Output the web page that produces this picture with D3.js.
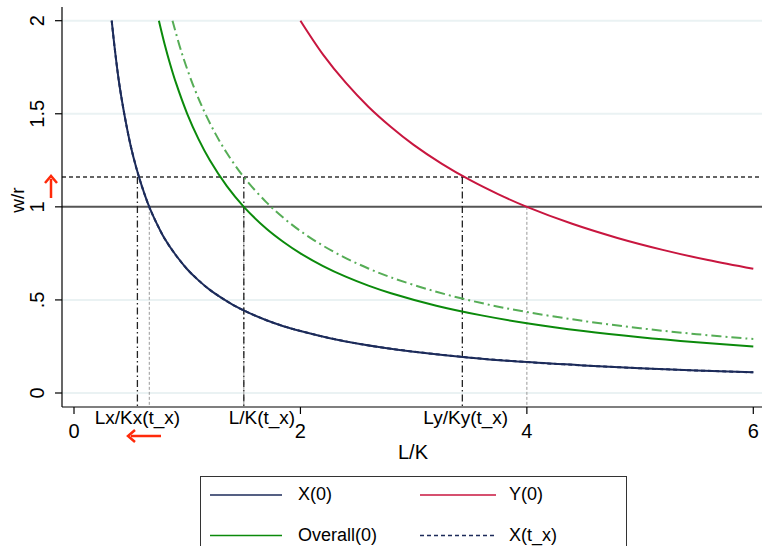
<!DOCTYPE html>
<html><head><meta charset="utf-8">
<script src="https://cdn.jsdelivr.net/npm/d3@7"></script>
<style>body{margin:0;background:#fff}svg{display:block;font-family:"Liberation Sans",Arial,Helvetica,sans-serif}</style>
</head><body><svg id="c" width="764" height="546"></svg>
<script>
// ---- data ----
const x0X = [0.333,0.36,0.4,0.45,0.5,0.55,0.6,0.65,0.7,0.75,0.8,0.9,1.0,1.1,1.2,1.3,1.4,1.55,1.7,1.85,2.0,2.25,2.5,2.75,3.0,3.5,4.0,4.5,5.0,5.5,6.0];
const yX0 = [2.0,1.85,1.66,1.48,1.33,1.21,1.11,1.023,0.95,0.887,0.83,0.74,0.665,0.605,0.554,0.512,0.475,0.429,0.391,0.359,0.333,0.296,0.266,0.242,0.222,0.19,0.166,0.148,0.133,0.121,0.111];
const xOverall = [0.75,0.8,0.85,0.9,1.0,1.1,1.2,1.35,1.5,1.7,1.85,2.0,2.2,2.4,2.6,2.8,3.2,3.6,4.0,4.5,5.0,5.5,6.0];
const yOverall0 = [2.0,1.875,1.765,1.667,1.5,1.364,1.25,1.111,1.0,0.882,0.811,0.75,0.682,0.625,0.577,0.536,0.469,0.417,0.375,0.333,0.3,0.273,0.25];
const xOverallT = [0.87,0.95,1.05,1.15,1.25,1.35,1.5,1.7,1.85,2.0,2.2,2.4,2.6,2.8,3.2,3.6,4.0,4.5,5.0,5.5,6.0];
const yOverallT = [2.0,1.83,1.657,1.513,1.392,1.289,1.16,1.024,0.941,0.87,0.791,0.725,0.669,0.621,0.544,0.483,0.435,0.387,0.348,0.316,0.29];
const xY = [2.0,2.2,2.4,2.6,2.8,3.0,3.25,3.5,3.75,4.0,4.4,4.8,5.2,5.6,6.0];
const yY0 = [2.0,1.818,1.667,1.538,1.429,1.333,1.231,1.143,1.067,1.0,0.909,0.833,0.769,0.714,0.667];
const yXt = yX0; // X(t_x) drawn over X(0)

const refLevel0 = 1;       // w/r at t=0
const refLevelT = 1.16;    // w/r at t_x
const tKnots = [0.56, 1.5, 3.43];         // dash-dot drops at t_x
const tLabels = ["Lx/Kx(t_x)", "L/K(t_x)", "Ly/Ky(t_x)"];
const tLabelShift = [0, 0.16, 0.03];
const zeroKnots = [0.665, 1.5, 4.0];      // thin drops at t=0
const xTicks = [0, 2, 4, 6];
const yTicks = [0, 0.5, 1, 1.5, 2];
const yTickLabels = ["0", ".5", "1", "1.5", "2"];
const legendNames = ["X(0)", "Y(0)", "Overall(0)", "X(t_x)"];
const legendColors = ["#1c2b5a", "#c8163f", "#0b8a0b", "#1c2b5a"];
const legendDash = [null, null, null, "4,3"];

// ---- drawing ----
const svg = d3.select("#c");
const x = d3.scaleLinear().domain([0, 6]).range([74, 753.3]);
const y = d3.scaleLinear().domain([0, 2]).range([393, 20.7]);
const L = 62, R = 762, T = 7, B = 407;

// gridlines
svg.append("g").selectAll("line").data(yTicks.filter(d => d !== 1)).join("line")
  .attr("x1", L).attr("x2", R).attr("y1", d => y(d)).attr("y2", d => y(d))
  .attr("stroke", "#eaf2f3").attr("stroke-width", 2);

// horizontal reference lines
svg.append("line").attr("x1", L).attr("x2", R).attr("y1", y(refLevel0)).attr("y2", y(refLevel0))
  .attr("stroke", "#555").attr("stroke-width", 2);
svg.append("line").attr("x1", L).attr("x2", R).attr("y1", y(refLevelT)).attr("y2", y(refLevelT))
  .attr("stroke", "#333").attr("stroke-width", 1.6).attr("stroke-dasharray", "4,3");

// vertical drops
svg.append("g").selectAll("line").data(zeroKnots).join("line")
  .attr("x1", d => x(d)).attr("x2", d => x(d)).attr("y1", y(refLevel0)).attr("y2", B)
  .attr("stroke", "#999").attr("stroke-width", 1).attr("stroke-dasharray", "3,2");
svg.append("g").selectAll("line").data(tKnots).join("line")
  .attr("x1", d => x(d)).attr("x2", d => x(d)).attr("y1", y(refLevelT)).attr("y2", B)
  .attr("stroke", "#222").attr("stroke-width", 1.3).attr("stroke-dasharray", "7,3,1.5,3");

// curves
const line = d3.line().x(d => x(d[0])).y(d => y(d[1])).curve(d3.curveCatmullRom.alpha(0.5));
const zip = (a, b) => a.map((v, i) => [v, b[i]]);
const series = [
  {d: zip(xOverall, yOverall0), c: "#0b8a0b", dash: null},
  {d: zip(xOverallT, yOverallT), c: "#56ad56", dash: "10,4,2,4"},
  {d: zip(xY, yY0), c: "#c8163f", dash: null},
  {d: zip(x0X, yX0), c: "#1c2b5a", dash: null},
  {d: zip(x0X, yXt), c: "#1c2b5a", dash: "4,3"}
];
series.forEach(s => {
  svg.append("path").attr("d", line(s.d)).attr("fill", "none")
    .attr("stroke", s.c).attr("stroke-width", 2)
    .attr("stroke-dasharray", s.dash);
});

// axes
const yAxis = svg.append("g");
yAxis.append("line").attr("x1", L).attr("x2", L).attr("y1", T).attr("y2", B).attr("stroke", "#000").attr("stroke-width", 1.2);
yAxis.selectAll("line.t").data(yTicks).join("line").attr("class", "t")
  .attr("x1", L - 7).attr("x2", L).attr("y1", d => y(d)).attr("y2", d => y(d)).attr("stroke", "#000").attr("stroke-width", 1.2);
yAxis.selectAll("text").data(yTicks).join("text")
  .attr("transform", d => `translate(44,${y(d)}) rotate(-90)`)
  .attr("text-anchor", "middle").attr("font-size", 20).text((d, i) => yTickLabels[i]);
svg.append("text").attr("transform", `translate(24,200) rotate(-90)`).attr("text-anchor", "middle")
  .attr("font-size", 19).text("w/r");

const xAxis = svg.append("g");
xAxis.append("line").attr("x1", L).attr("x2", R).attr("y1", B).attr("y2", B).attr("stroke", "#000").attr("stroke-width", 1.2);
xAxis.selectAll("line.t").data(xTicks).join("line").attr("class", "t")
  .attr("x1", d => x(d)).attr("x2", d => x(d)).attr("y1", B).attr("y2", B + 7).attr("stroke", "#000").attr("stroke-width", 1.2);
xAxis.selectAll("text.n").data(xTicks).join("text").attr("class", "n")
  .attr("x", d => x(d)).attr("y", 438).attr("text-anchor", "middle").attr("font-size", 20).text(d => d);
xAxis.selectAll("text.k").data(tKnots).join("text").attr("class", "k")
  .attr("x", (d, i) => x(d + tLabelShift[i])).attr("y", 424).attr("text-anchor", "middle").attr("font-size", 19)
  .text((d, i) => tLabels[i]);
svg.append("text").attr("x", 413).attr("y", 459).attr("text-anchor", "middle").attr("font-size", 20).text("L/K");

// red arrows
const red = "#ff2a0a";
svg.append("line").attr("x1", 51).attr("x2", 51).attr("y1", 198).attr("y2", 179).attr("stroke", red).attr("stroke-width", 2.5);
svg.append("path").attr("d", "M45,183 L51,176 L57,183").attr("fill", "none").attr("stroke", red).attr("stroke-width", 2.5);
svg.append("line").attr("x1", 161).attr("x2", 131).attr("y1", 436).attr("y2", 436).attr("stroke", red).attr("stroke-width", 2.5);
svg.append("path").attr("d", "M135,430 L128,436 L135,442").attr("fill", "none").attr("stroke", red).attr("stroke-width", 2.5);

// legend
svg.append("rect").attr("x", 200.5).attr("y", 476.5).attr("width", 426).attr("height", 90)
  .attr("fill", "#fff").attr("stroke", "#333").attr("stroke-width", 1);
const lg = svg.append("g").selectAll("g").data(legendNames).join("g")
  .attr("transform", (d, i) => `translate(${i % 2 ? 420 : 210},${i < 2 ? 495 : 535.5})`);
lg.append("line").attr("x1", 0).attr("x2", (d, i) => i % 2 ? 76 : 72).attr("y1", 0).attr("y2", 0)
  .attr("stroke", (d, i) => legendColors[i]).attr("stroke-width", 1.5).attr("stroke-dasharray", (d, i) => legendDash[i]);
lg.append("text").attr("x", (d, i) => i % 2 ? 89 : 88).attr("y", 5).attr("font-size", 18).text(d => d);
</script></body></html>
